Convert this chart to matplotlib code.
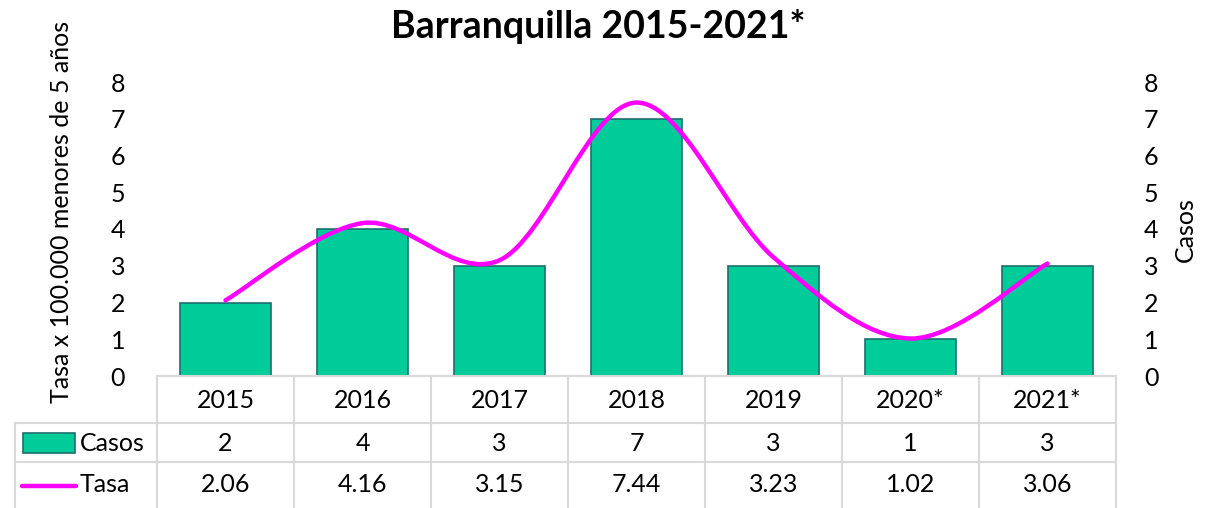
import numpy as np
import matplotlib.pyplot as plt
from matplotlib.path import Path
from matplotlib.patches import PathPatch

plt.rcParams['font.family'] = ['Lato', 'DejaVu Sans']

years = ['2015', '2016', '2017', '2018', '2019', '2020*', '2021*']
casos = [2, 4, 3, 7, 3, 1, 3]
tasa = [2.06, 4.16, 3.15, 7.44, 3.23, 1.02, 3.06]

W, H = 1214, 508
fig = plt.figure(figsize=(W / 100, H / 100), dpi=100)
fs = 18

# plot area in pixels
x0, x1 = 157, 1116
ytop, ybot = 82, 376
ax = fig.add_axes([x0 / W, 1 - ybot / H, (x1 - x0) / W, (ybot - ytop) / H])
ax2 = ax.twinx()

xs = np.arange(len(years))
ax2.bar(xs, casos, width=0.67, color='#00CC99', edgecolor='#1E6E6E', linewidth=1.2, zorder=2)

# excel-like smoothed line (catmull-rom as cubic bezier)
pts = np.column_stack([xs, tasa])
verts = [pts[0]]
codes = [Path.MOVETO]
n = len(pts)
for i in range(n - 1):
    p0 = pts[max(i - 1, 0)]
    p1 = pts[i]
    p2 = pts[i + 1]
    p3 = pts[min(i + 2, n - 1)]
    c1 = p1 + (p2 - p0) / 6
    c2 = p2 - (p3 - p1) / 6
    verts += [c1, c2, p2]
    codes += [Path.CURVE4] * 3
ax.add_patch(PathPatch(Path(verts, codes), facecolor='none', edgecolor='#FF00FF',
                       lw=3.2, capstyle='round', zorder=5))
ax.set_zorder(ax2.get_zorder() + 1)
ax.patch.set_visible(False)

for a in (ax, ax2):
    a.set_xlim(-0.5, len(years) - 0.5)
    a.set_ylim(0, 8)
    a.set_yticks(range(9))
    for s in a.spines.values():
        s.set_visible(False)
    a.tick_params(length=0, labelsize=fs)
ax.set_xticks([])
ax.tick_params(axis='y', pad=23)
ax2.tick_params(axis='y', pad=20)

fig.text(62 / W, 1 - 212 / H, 'Tasa x 100.000 menores de 5 años', rotation=90,
         ha='center', va='center', fontsize=fs)
fig.text(1185 / W, 1 - 230 / H, 'Casos', rotation=90, ha='center', va='center', fontsize=fs)
fig.text(598 / W, 1 - 26 / H, 'Barranquilla 2015-2021*', ha='center', va='center',
         fontsize=27, fontweight='bold')

# data table
tab = fig.add_axes([0, 0, 1, 1])
tab.set_xlim(0, W)
tab.set_ylim(H, 0)
tab.axis('off')
gc = '#D9D9D9'
r0, r1, r2, r3 = 376, 423, 462, 508
lx = 15
cw = (x1 - x0) / len(years)
tab.plot([x0, x1], [r0, r0], color=gc, lw=1.5)
tab.plot([lx, x1], [r1, r1], color=gc, lw=1.5)
tab.plot([lx, x1], [r2, r2], color=gc, lw=1.5)
tab.plot([lx, lx], [r1, r3], color=gc, lw=1.5)
for k in range(len(years) + 1):
    tab.plot([x0 + k * cw] * 2, [r0, r3], color=gc, lw=1.5)
for k, y in enumerate(years):
    cx = x0 + (k + 0.5) * cw
    tab.text(cx, (r0 + r1) / 2 + 1, y, ha='center', va='center', fontsize=fs)
    tab.text(cx, (r1 + r2) / 2 + 1, str(casos[k]), ha='center', va='center', fontsize=fs)
    tab.text(cx, (r2 + r3) / 2, f'{tasa[k]:.2f}', ha='center', va='center', fontsize=fs)

# legend keys
tab.add_patch(plt.Rectangle((23, 433), 52, 20, facecolor='#00CC99', edgecolor='#1E6E6E', lw=1.2))
tab.plot([22, 76], [486, 486], color='#FF00FF', lw=3.2, solid_capstyle='round')
tab.text(80, (r1 + r2) / 2 + 1, 'Casos', ha='left', va='center', fontsize=fs)
tab.text(80, (r2 + r3) / 2, 'Tasa', ha='left', va='center', fontsize=fs)

fig.savefig('out.png', dpi=100)
